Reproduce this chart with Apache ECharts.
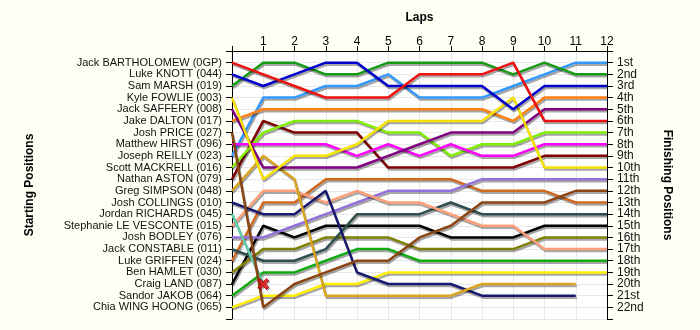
<!DOCTYPE html>
<html>
<head>
<meta charset="utf-8">
<script src="https://cdn.jsdelivr.net/npm/echarts@6/dist/echarts.min.js"></script>
<style>
html,body{margin:0;padding:0;background:#fffff4;}
#chart{width:700px;height:330px;}
</style>
</head>
<body>
<div id="chart"></div>
<script>
// ---- data ----
const laps = [0,1,2,3,4,5,6,7,8,9,10,11,12];
const startNames = [
  "Jack BARTHOLOMEW (0GP)","Luke KNOTT (044)","Sam MARSH (019)","Kyle FOWLIE (003)",
  "Jack SAFFERY (008)","Jake DALTON (017)","Josh PRICE (027)","Matthew HIRST (096)",
  "Joseph REILLY (023)","Scott MACKRELL (016)","Nathan ASTON (079)","Greg SIMPSON (048)",
  "Josh COLLINGS (010)","Jordan RICHARDS (045)","Stephanie LE VESCONTE (015)","Josh BODLEY (076)",
  "Jack CONSTABLE (011)","Luke GRIFFEN (024)","Ben HAMLET (030)","Craig LAND (087)",
  "Sandor JAKOB (064)","Chia WING HOONG (065)"
];
const finishLabels = ["1st","2nd","3rd","4th","5th","6th","7th","8th","9th","10th","11th",
  "12th","13th","14th","15th","16th","17th","18th","19th","20th","21st","22nd"];
// position of each driver after each lap (index = lap)
const posBartholomew = [1,2,3,4,4,4,2,2,2,1,6,6,6];
const posKnott       = [2,3,2,1,1,3,3,3,3,5,3,3,3];
const posMarsh       = [3,1,1,2,2,1,1,1,1,2,1,2,2];
const posFowlie      = [4,11,9,9,8,6,6,6,6,4,10,10,10];
const posSaffery     = [5,10,10,10,10,9,8,7,7,7,5,5,5];
const posDalton      = [6,5,5,5,5,5,5,5,5,6,4,4,4];
const posPrice       = [7,22,20,19,18,18,16,15,13,13,13,12,12];
const posHirst       = [8,8,8,8,9,8,9,8,9,9,8,8,8];
const posReilly      = [9,4,4,3,3,2,4,4,4,3,2,1,1];
const posMackrell    = [10,7,6,6,6,7,7,9,8,8,7,7,7];
const posAston       = [11,6,7,7,7,10,10,10,10,10,9,9,9];
const posSimpson     = [12,9,11,21,21,21,21,21,20,20,20,20];
const posCollings    = [13,14,14,12,19,20,20,20,21,21,21,21];
const posRichards    = [14,20];
const posLeVesconte  = [15,12,12,13,12,13,13,14,15,15,17,17,17];
const posBodley      = [16,16,15,14,13,12,12,12,11,11,11,11,11];
const posConstable   = [17,18,18,17,14,14,14,13,14,14,14,14,14];
const posGriffen     = [18,13,13,11,11,11,11,11,12,12,12,13,13];
const posHamlet      = [19,17,17,16,16,16,17,17,17,17,16,16,16];
const posLand        = [20,15,16,15,15,15,15,16,16,16,15,15,15];
const posJakob       = [21,19,19,18,17,17,18,18,18,18,18,18,18];
const posWingHoong   = [22,21,21,20,20,19,19,19,19,19,19,19,19];
const allPositions = [posBartholomew,posKnott,posMarsh,posFowlie,posSaffery,posDalton,posPrice,
  posHirst,posReilly,posMackrell,posAston,posSimpson,posCollings,posRichards,posLeVesconte,
  posBodley,posConstable,posGriffen,posHamlet,posLand,posJakob,posWingHoong];
// retirements: driver index
const retiredDrivers = [13];

// ---- styles ----
const colors = ["#ee1111","#0000cc","#159a15","#f5e200","#800080","#ff8010","#8b4513","#ff00ff",
  "#3399ff","#80ee00","#800000","#daa520","#191970","#66cdaa","#ffa07a","#9370db",
  "#2f4f4f","#d2691e","#808000","#000000","#11aa11","#ffee00"];
const FONT = "Liberation Sans";
const X_PATH = "path://M2,0 L5,3 L8,0 L10,2 L7,5 L10,8 L8,10 L5,7 L2,10 L0,8 L3,5 L0,2 Z";

const series = allPositions.map((p, i) => ({
  name: startNames[i],
  type: 'line',
  data: p.map((v, j) => [laps[j], v]),
  symbol: 'none',
  lineStyle: {width: 2.5, color: colors[i], shadowColor: 'rgba(0,0,0,0.35)', shadowOffsetX: 1, shadowOffsetY: 2, shadowBlur: 0},
  z: 30 - i,
  silent: true
}));
series.push({
  type: 'scatter',
  data: retiredDrivers.map(d => [laps[allPositions[d].length - 1], allPositions[d][allPositions[d].length - 1]]),
  symbol: X_PATH,
  symbolSize: 11,
  itemStyle: {color: '#ff1010', borderColor: '#990000', borderWidth: 1, shadowColor: 'rgba(0,0,0,0.35)', shadowOffsetX: 1, shadowOffsetY: 1},
  z: 40
});

const yCommon = {
  type: 'value', inverse: true, min: 0, max: 23, interval: 1,
  axisLine: {show: true, lineStyle: {color: '#000', width: 1}},
  axisTick: {show: true, length: 6, lineStyle: {color: '#000'}},
  splitLine: {show: false}
};

const option = {
  backgroundColor: '#fffff4',
  animation: false,
  grid: {left: 232, right: 93, top: 51, bottom: 11, show: true, backgroundColor: '#ffffff', borderWidth: 0},
  xAxis: {
    type: 'value', position: 'top', min: 0, max: 12, interval: 1,
    name: 'Laps', nameLocation: 'middle', nameGap: 27,
    nameTextStyle: {fontFamily: FONT, fontWeight: 'bold', fontSize: 12, color: '#000'},
    axisLine: {show: true, lineStyle: {color: '#000', width: 1}},
    axisTick: {show: true, length: 5, lineStyle: {color: '#000'}},
    axisLabel: {margin: 3, fontFamily: FONT, fontSize: 12, color: '#000', formatter: v => v === 0 ? '' : String(v)},
    splitLine: {show: true, lineStyle: {color: '#e8e8e8', width: 1}}
  },
  yAxis: [
    Object.assign({}, yCommon, {
      position: 'left',
      name: 'Starting Positions', nameLocation: 'middle', nameGap: 196, nameRotate: 90,
      nameTextStyle: {fontFamily: FONT, fontWeight: 'bold', fontSize: 12, color: '#000'},
      axisLabel: {margin: 10, fontFamily: FONT, fontSize: 11, color: '#111',
        formatter: v => (v >= 1 && v <= startNames.length) ? startNames[v - 1] : ''},
      splitLine: {show: true, lineStyle: {color: '#e8e8e8', width: 1}}
    }),
    Object.assign({}, yCommon, {
      position: 'right',
      name: 'Finishing Positions', nameLocation: 'middle', nameGap: 54, nameRotate: -90,
      nameTextStyle: {fontFamily: FONT, fontWeight: 'bold', fontSize: 12, color: '#000'},
      axisLabel: {margin: 10, fontFamily: FONT, fontSize: 12, color: '#111',
        formatter: v => (v >= 1 && v <= finishLabels.length) ? finishLabels[v - 1] : ''}
    })
  ],
  series: series
};

const chart = echarts.init(document.getElementById('chart'), null, {renderer: 'canvas'});
chart.setOption(option);
</script>
</body>
</html>
